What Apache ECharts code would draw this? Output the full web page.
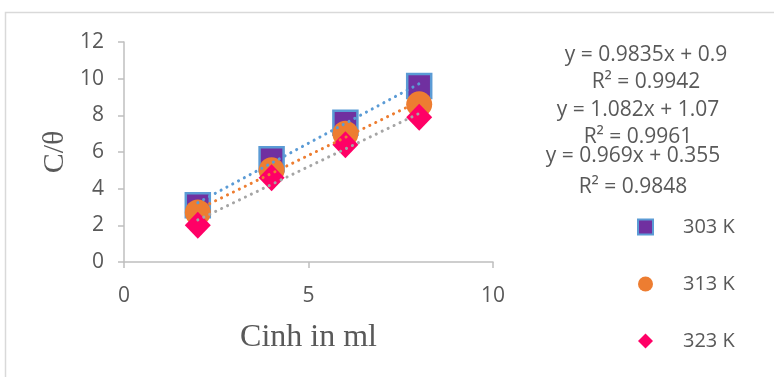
<!DOCTYPE html>
<html>
<head>
<meta charset="utf-8">
<script src="https://cdn.jsdelivr.net/npm/echarts@6/dist/echarts.min.js"></script>
<style>
html,body{margin:0;padding:0;background:#fff;}
#chart{width:774px;height:377px;}
</style>
</head>
<body>
<div id="chart"></div>
<script>
// ---- data ----
const xValues = [2, 4, 6, 8];
const seriesNames = ['303 K', '313 K', '323 K'];
const y303 = [3.1, 5.6, 7.6, 9.6];
const y313 = [2.7, 5.0, 7.0, 8.6];
const y323 = [2.0, 4.6, 6.4, 7.9];
// trendline coefficients as printed on the chart
const trendSlope = [1.082, 0.9835, 0.969];
const trendIntercept = [1.07, 0.9, 0.355];
const trendR2 = ['0.9961', '0.9942', '0.9848'];
const xTicks = [0, 5, 10];
const yTicks = [0, 2, 4, 6, 8, 10, 12];

const chart = echarts.init(document.getElementById('chart'));
const txt = '#595959';
const font = '"Open Sans", "Noto Sans", sans-serif';
const serif = '"Liberation Serif", "DejaVu Serif", serif';

function pts(ys){ return xValues.map((x,i)=>[x, ys[i]]); }
function trend(k){
  const x0 = xValues[0], x1 = xValues[xValues.length-1];
  return [[x0, trendSlope[k]*x0+trendIntercept[k]], [x1, trendSlope[k]*x1+trendIntercept[k]]];
}
const trendColors = ['#5B9BD5', '#ED7D31', '#A5A5A5'];

const eqTexts = [
  {t:'y = ' + trendSlope[1] + 'x + ' + trendIntercept[1], x:646, y:55},
  {t:'R² = ' + trendR2[1], x:646, y:82},
  {t:'y = ' + trendSlope[0] + 'x + ' + trendIntercept[0], x:638, y:110},
  {t:'R² = ' + trendR2[0], x:638, y:137},
  {t:'y = ' + trendSlope[2] + 'x + ' + trendIntercept[2], x:633, y:156},
  {t:'R² = ' + trendR2[2], x:633, y:187}
];

const option = {
  animation:false,
  backgroundColor:'#fff',
  grid:{left:124, right:281, top:42, bottom:115, containLabel:false},
  xAxis:{
    type:'value', min:0, max:10, interval:5,
    name:'Cinh in ml', nameLocation:'middle', nameGap:60,
    nameTextStyle:{fontFamily:serif, fontSize:32, color:txt},
    axisLine:{show:true, lineStyle:{color:'#BFBFBF', width:1.5}},
    axisTick:{show:true, length:6, lineStyle:{color:'#BFBFBF', width:1.5}},
    axisLabel:{color:txt, fontFamily:font, fontSize:21, margin:24},
    splitLine:{show:false}
  },
  yAxis:{
    type:'value', min:0, max:12, interval:2,
    name:'C/θ', nameLocation:'middle', nameGap:54, nameRotate:90,
    nameTextStyle:{fontFamily:serif, fontSize:30, color:txt},
    axisLine:{show:true, lineStyle:{color:'#BFBFBF', width:1.5}},
    axisTick:{show:true, length:6, lineStyle:{color:'#BFBFBF', width:1.5}},
    axisLabel:{color:txt, fontFamily:font, fontSize:21, margin:20},
    splitLine:{show:false}
  },
  legend:{
    data:seriesNames,
    orient:'vertical', left:632, top:212,
    itemWidth:15, itemHeight:15, itemGap:37,
    textStyle:{color:txt, fontFamily:font, fontSize:20, padding:[0,0,0,25]}
  },
  series:[
    {name:seriesNames[0], type:'scatter', data:pts(y303), symbol:'rect', symbolSize:24,
     itemStyle:{color:'#7030A0', borderColor:'#5B9BD5', borderWidth:2.5, opacity:1}, z:2},
    {name:seriesNames[1], type:'scatter', data:pts(y313), symbol:'circle', symbolSize:26,
     itemStyle:{color:'#ED7D31', opacity:1}, z:3},
    {name:seriesNames[2], type:'scatter', data:pts(y323), symbol:'diamond', symbolSize:[26,27],
     itemStyle:{color:'#FF0066', opacity:1}, z:4},
    {name:'trend303', type:'line', data:trend(0), symbol:'none', silent:true, z:6,
     lineStyle:{color:trendColors[0], width:3, type:[0.1,6.5], cap:'round'}},
    {name:'trend313', type:'line', data:trend(1), symbol:'none', silent:true, z:6,
     lineStyle:{color:trendColors[1], width:3, type:[0.1,6.5], cap:'round'}},
    {name:'trend323', type:'line', data:trend(2), symbol:'none', silent:true, z:6,
     lineStyle:{color:trendColors[2], width:3, type:[0.1,6.5], cap:'round'}}
  ],
  graphic:[
    {type:'rect', shape:{x:5.5, y:12.5, width:800, height:400}, style:{fill:'none', stroke:'#D9D9D9', lineWidth:1.5}, z:-1}
  ].concat(eqTexts.map(e=>({
    type:'text', x:e.x, y:e.y,
    style:{text:e.t, fill:txt, font:'21px ' + font, textAlign:'center', textVerticalAlign:'middle'}
  })))
};
chart.setOption(option);
</script>
</body>
</html>
